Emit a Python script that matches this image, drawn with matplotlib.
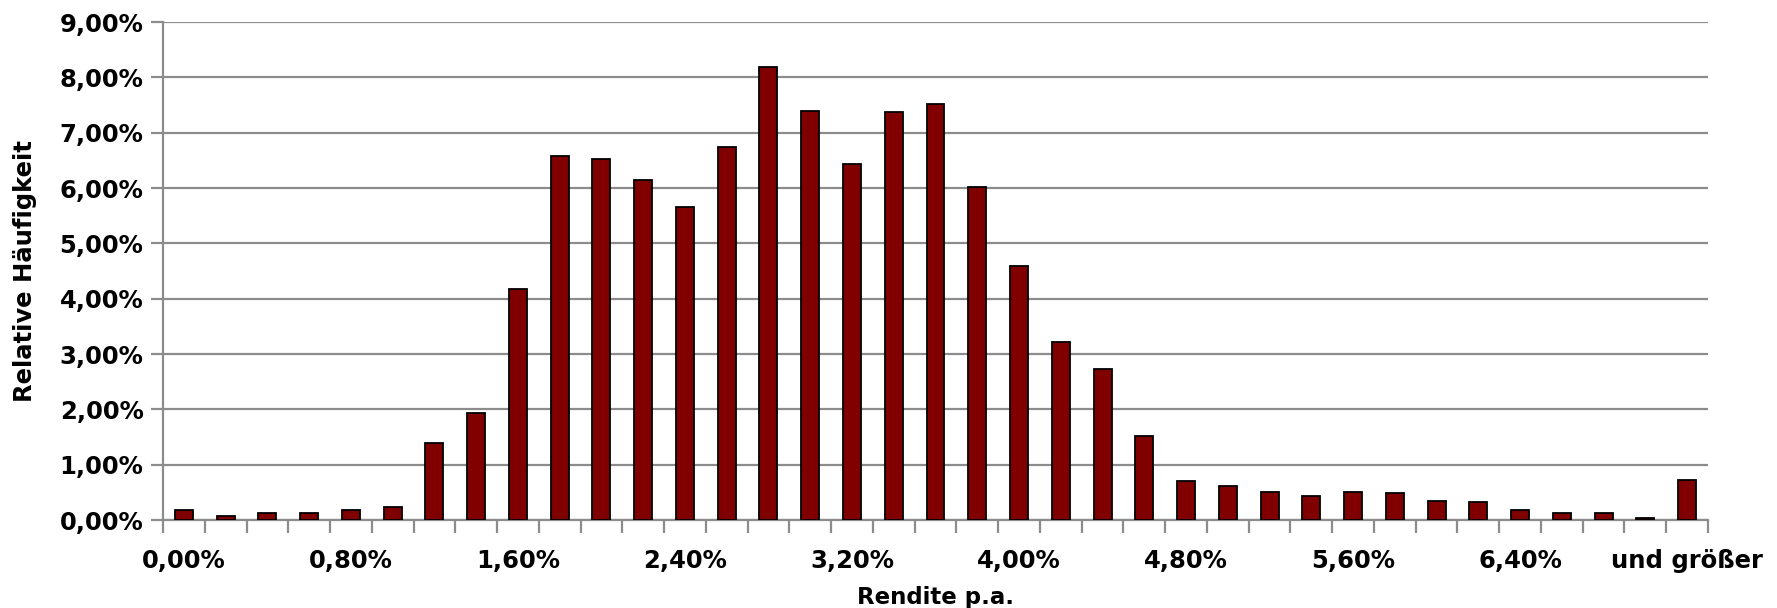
import matplotlib
matplotlib.use("Agg")
import matplotlib.pyplot as plt
import numpy as np

# Data
categories = [f"{v/100:.2f}".replace(".", ",") + "%" for v in range(0, 701, 20)] + ["und größer"]
values = [0.18, 0.08, 0.13, 0.12, 0.18, 0.23, 1.40, 1.93, 4.18, 6.57,
          6.52, 6.14, 5.66, 6.74, 8.19, 7.40, 6.44, 7.37, 7.52, 6.02,
          4.59, 3.21, 2.72, 1.52, 0.70, 0.62, 0.50, 0.43, 0.51, 0.48,
          0.35, 0.33, 0.18, 0.12, 0.12, 0.03, 0.72]
y_ticks = list(range(0, 10))
x_label_step = 4

plt.rcParams['font.family'] = ['DejaVu Sans']
plt.rcParams['font.weight'] = 'bold'

fig = plt.figure(figsize=(17.77, 6.08), dpi=100)
ax = fig.add_axes([163/1777, 1-520/608, (1708-163)/1777, (520-22)/608])

grid_c = "#8c8c8c"
x = np.arange(len(values))
ax.set_axisbelow(True)
ax.yaxis.grid(True, color=grid_c, linewidth=1.6)
ax.bar(x, values, width=0.43, color="#800000", edgecolor="black", linewidth=1.3, zorder=3)

ax.set_xlim(-0.5, len(values)-0.5)
ax.set_ylim(0, 9)
ax.set_yticks(y_ticks)
ax.set_yticklabels([f"{v},00%" for v in y_ticks], fontsize=17.5, fontweight='bold')

major = x[::x_label_step]
ax.set_xticks(major)
ax.set_xticklabels([categories[i] for i in major], fontsize=17.5, fontweight='bold')
ax.tick_params(axis='x', which='major', length=0, pad=21)
ax.set_xticks(np.arange(-0.5, len(values), 1), minor=True)
ax.tick_params(axis='x', which='minor', length=9, width=1.6, color=grid_c, direction='out')
ax.tick_params(axis='y', which='major', length=9, width=1.6, color=grid_c, direction='out', pad=5)

for s in ['top', 'right']:
    ax.spines[s].set_visible(False)
for s in ['left', 'bottom']:
    ax.spines[s].set_color(grid_c)
    ax.spines[s].set_linewidth(1.6)

ax.set_xlabel("Rendite p.a.", fontsize=16.5, fontweight='bold', labelpad=9)
ax.set_ylabel("Relative Häufigkeit", fontsize=17.5, fontweight='bold', labelpad=16)

fig.savefig("out.png", dpi=100)
